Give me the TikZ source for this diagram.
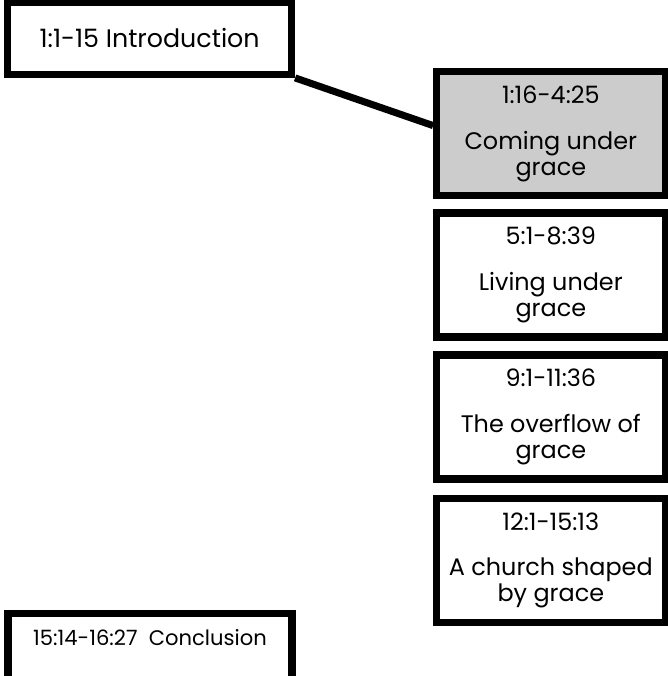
\documentclass[tikz,border=0pt]{standalone}
\usepackage{fontspec}
\setmainfont{Poppins}
\definecolor{shade}{RGB}{204,204,204}
\tikzset{
  sectbox/.style={draw=black, line width=5pt, fill=white, align=center,
    font=\fontsize{17}{18.5}\selectfont, inner sep=2pt},
  bookend/.style={sectbox, minimum width=7.1cm, minimum height=1.8cm},
  chapter/.style={sectbox, minimum width=5.71cm, minimum height=3.1cm},
  current/.style={chapter, fill=shade}
}
\begin{document}
\begin{tikzpicture}
  \useasboundingbox (0, 0) rectangle (16.675, -16.9);

  %%opening and closing
  \node[bookend, font=\fontsize{18}{20}\selectfont] (intro) at (3.74, -0.96) {1:1-15 Introduction};
  \node[bookend, font=\fontsize{15}{18}\selectfont, text depth=0.63cm] (concl) at (3.75, -16.24) {15:14-16:27\ \ Conclusion};

  %%main body
  \node[current] (coming) at (13.77, -3.34) {1:16-4:25\\[14pt]Coming under\\grace};
  \node[chapter] (living) at (13.77, -6.875) {5:1-8:39\\[14pt]Living under\\grace};
  \node[chapter] (overflow) at (13.77, -10.425) {9:1-11:36\\[14pt]The overflow of\\grace};
  \node[chapter] (church) at (13.77, -14.01) {12:1-15:13\\[14pt]A church shaped\\by grace};

  %%link
  \draw[line width=5pt] (intro.south east) -- ([yshift=0.2cm]coming.west);

\end{tikzpicture}
\end{document}
